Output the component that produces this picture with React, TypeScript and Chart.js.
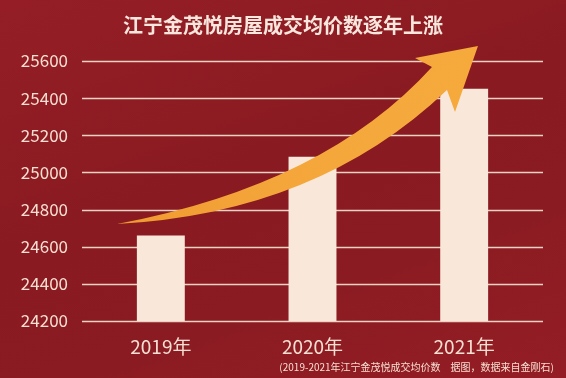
import React, { useEffect, useRef } from "react";
import { Chart, registerables } from "chart.js";

Chart.register(...registerables);

// ---- data ----
const categories: string[] = ["2019年", "2020年", "2021年"];
const avgPrices: number[] = [24660, 25085, 25450];
const yMin = 24200;
const yMax = 25600;
const yStep = 200;
const titleText = "江宁金茂悦房屋成交均价数逐年上涨";
const footnoteText = "(2019-2021年江宁金茂悦成交均价数　据图，数据来自金刚石)";

// ---- styles ----
const W = 566;
const H = 378;
const FONT = '"Noto Sans CJK SC", "Noto Sans", sans-serif';
const TEXT_COLOR = "#f7dfd2";
const BAR_COLOR = "#f9e7da";
const GRID_COLOR = "#f0d2c4";
const ARROW_COLOR = "#f4a63a";

// arrow decoration, as fractions of the chart area
const arrowShape = {
  tail: [0.0703, 0.627],
  upperCtrl: [0.5286, 0.475],
  upperJoin: [0.7626, 0.023],
  leftBarb: [0.7253, -0.0115],
  tip: [0.8637, -0.0577],
  rightBarb: [0.8132, 0.196],
  lowerJoin: [0.7956, 0.1115],
  lowerCtrl: [0.5121, 0.5846],
};

const gridPlugin = {
  id: "customGrid",
  beforeDatasetsDraw(chart: any) {
    const { ctx, chartArea } = chart;
    const y = chart.scales.y;
    ctx.save();
    ctx.strokeStyle = GRID_COLOR;
    ctx.lineWidth = 1.3;
    y.ticks.forEach((t: any) => {
      const py = Math.round(y.getPixelForValue(t.value)) + 0.5;
      ctx.beginPath();
      ctx.moveTo(chartArea.left - 3, py);
      ctx.lineTo(chartArea.right + 3, py);
      ctx.stroke();
    });
    ctx.restore();
  },
};

const arrowPlugin = {
  id: "arrowDeco",
  afterDatasetsDraw(chart: any) {
    const { ctx, chartArea } = chart;
    const w = chartArea.right - chartArea.left;
    const h = chartArea.bottom - chartArea.top;
    const P = (p: number[]) => [chartArea.left + p[0] * w, chartArea.top + p[1] * h];
    const a = arrowShape;
    const tail = P(a.tail);
    const uc = P(a.upperCtrl);
    const uj = P(a.upperJoin);
    const lb = P(a.leftBarb);
    const tip = P(a.tip);
    const rb = P(a.rightBarb);
    const lj = P(a.lowerJoin);
    const lc = P(a.lowerCtrl);
    ctx.save();
    const g = ctx.createLinearGradient(tail[0], tail[1], tip[0], tip[1]);
    g.addColorStop(0, "#f09a30");
    g.addColorStop(0.4, ARROW_COLOR);
    g.addColorStop(1, "#f6aa3c");
    ctx.fillStyle = g;
    ctx.beginPath();
    ctx.moveTo(tail[0], tail[1]);
    ctx.quadraticCurveTo(uc[0], uc[1], uj[0], uj[1]);
    ctx.lineTo(lb[0], lb[1]);
    ctx.lineTo(tip[0], tip[1]);
    ctx.lineTo(rb[0], rb[1]);
    ctx.lineTo(lj[0], lj[1]);
    ctx.quadraticCurveTo(lc[0], lc[1], tail[0], tail[1]);
    ctx.closePath();
    ctx.fill();
    ctx.restore();
  },
};

const footnotePlugin = {
  id: "footnote",
  afterDraw(chart: any) {
    const { ctx } = chart;
    ctx.save();
    ctx.font = `10px ${FONT}`;
    ctx.fillStyle = TEXT_COLOR;
    ctx.textAlign = "right";
    ctx.textBaseline = "middle";
    ctx.fillText(footnoteText, chart.width - 12, chart.height - 11);
    ctx.restore();
  },
};

export default function App() {
  const ref = useRef<HTMLCanvasElement | null>(null);

  useEffect(() => {
    document.body.style.margin = "0";
    if (!ref.current) return;
    const chart = new Chart(ref.current, {
      type: "bar",
      data: {
        labels: categories,
        datasets: [
          {
            data: avgPrices,
            backgroundColor: BAR_COLOR,
            borderWidth: 0,
            barPercentage: 0.316,
            categoryPercentage: 1,
          },
        ],
      },
      options: {
        responsive: false,
        animation: false,
        devicePixelRatio: 1,
        layout: { padding: { top: 0, left: 0, right: 0, bottom: 0 } },
        plugins: {
          legend: { display: false },
          tooltip: { enabled: false },
          title: {
            display: true,
            text: titleText,
            color: "#f9e6dc",
            font: { family: FONT, size: 20, weight: "bold" },
            padding: { top: 13, bottom: 24 },
          },
        },
        scales: {
          x: {
            grid: { display: false },
            border: { display: false },
            ticks: {
              color: TEXT_COLOR,
              font: { family: FONT, size: 19 },
              padding: 6,
            },
            afterFit: (s: any) => {
              s.height = 57;
            },
          },
          y: {
            min: yMin,
            max: yMax,
            grid: { display: false },
            border: { display: false },
            ticks: {
              stepSize: yStep,
              color: TEXT_COLOR,
              font: { family: FONT, size: 17 },
              padding: 9,
              callback: (v: any) => String(v),
            },
            afterFit: (s: any) => {
              s.width = 85;
            },
          },
          yRight: {
            position: "right",
            min: yMin,
            max: yMax,
            grid: { display: false },
            border: { display: false },
            ticks: { display: false },
            afterFit: (s: any) => {
              s.width = 26;
            },
          },
        },
      },
      plugins: [gridPlugin, arrowPlugin, footnotePlugin],
    });
    return () => chart.destroy();
  }, []);

  return (
    <div
      style={{
        position: "absolute",
        left: 0,
        top: 0,
        width: W,
        height: H,
        background:
          "linear-gradient(160deg, #951e26 0%, #891a21 45%, #8b1b22 70%, #941d25 100%)",
      }}
    >
      <canvas ref={ref} width={W} height={H} style={{ display: "block", width: W, height: H }} />
    </div>
  );
}
